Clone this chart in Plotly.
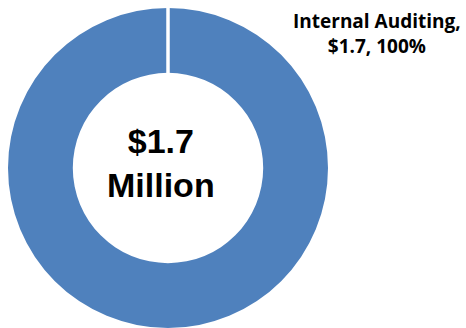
import plotly.graph_objects as go

# Budget breakdown (millions of dollars)
categories = ["Internal Auditing"]
values = [1.7]
total_label = "$1.7<br>Million"

W, H = 466, 328
slice_color = "#4F81BD"

# Pie geometry in paper coordinates
dom_x = [8 / W, 328 / W]
dom_y = [0.0, 320 / H]
hole = 0.595

total = sum(values)
fig = go.Figure(
    go.Pie(
        labels=categories,
        values=values,
        hole=hole,
        sort=False,
        direction="clockwise",
        rotation=0,
        textinfo="none",
        hoverinfo="label+value+percent",
        marker=dict(colors=[slice_color], line=dict(color="white", width=0)),
        domain=dict(x=dom_x, y=dom_y),
        showlegend=False,
    )
)

# White seam at the slice start (12 o'clock)
cx = (dom_x[0] + dom_x[1]) / 2
cy_px = (dom_y[0] + dom_y[1]) / 2 * H
r_px = (dom_y[1] - dom_y[0]) * H / 2
fig.add_shape(
    type="line", xref="paper", yref="paper",
    x0=cx, x1=cx,
    y0=(cy_px + r_px * hole - 1) / H, y1=(cy_px + r_px + 2) / H,
    line=dict(color="white", width=3.5),
)

# Centre total
fig.add_annotation(
    text=f"<b>{total_label}</b>",
    x=161 / W, y=0.503, xref="paper", yref="paper",
    xanchor="center", yanchor="middle", showarrow=False,
    font=dict(family="Liberation Sans, Arial", size=34, color="black"),
)

# Data label for the slice
for name, v in zip(categories, values):
    pct = round(v / total * 100)
    fig.add_annotation(
        text=f"<b>{name},<br>${v:.1f}, {pct}%</b>",
        x=377 / W, y=0.899, xref="paper", yref="paper",
        xanchor="center", yanchor="middle", showarrow=False,
        font=dict(family="Open Sans", size=19, color="black"),
    )

fig.update_layout(
    width=W, height=H,
    margin=dict(l=0, r=0, t=0, b=0),
    paper_bgcolor="white", plot_bgcolor="white",
)

fig.write_html("out.html")
